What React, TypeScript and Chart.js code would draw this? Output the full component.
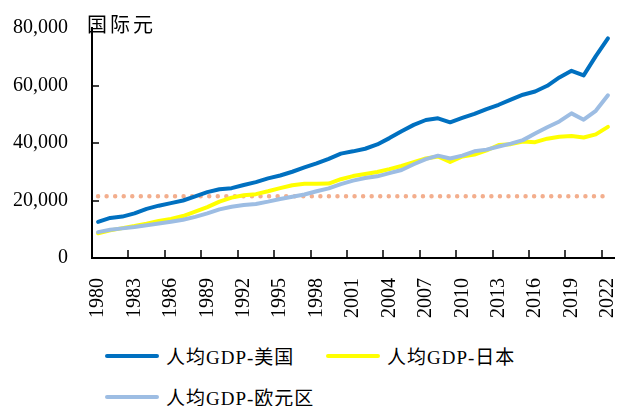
import React, { useEffect, useRef } from 'react';
import { Chart, registerables } from 'chart.js';

Chart.register(...registerables);

const years = [
  '1980', '1981', '1982', '1983', '1984', '1985', '1986', '1987', '1988', '1989',
  '1990', '1991', '1992', '1993', '1994', '1995', '1996', '1997', '1998', '1999',
  '2000', '2001', '2002', '2003', '2004', '2005', '2006', '2007', '2008', '2009',
  '2010', '2011', '2012', '2013', '2014', '2015', '2016', '2017', '2018', '2019',
  '2020', '2021', '2022',
];

const usValues = [
  12550, 13950, 14400, 15500, 17100, 18200, 19100, 20000, 21400, 22900,
  23900, 24300, 25400, 26400, 27700, 28700, 30000, 31500, 32900, 34500,
  36300, 37100, 38000, 39500, 41700, 44100, 46300, 48000, 48600, 47200,
  48700, 50100, 51800, 53300, 55100, 56800, 57900, 59900, 62800, 65100,
  63500, 70200, 76400,
];

const japanValues = [
  8600, 9600, 10400, 11100, 11900, 12900, 13600, 14600, 16100, 17700,
  19600, 21000, 21800, 22200, 23200, 24300, 25300, 25800, 25800, 25900,
  27400, 28500, 29200, 29900, 30900, 32000, 33300, 34600, 35300, 33400,
  35300, 36000, 37400, 39300, 39600, 40500, 40300, 41500, 42200, 42400,
  41900, 43000, 45600,
];

const euroValues = [
  9000, 9800, 10300, 10800, 11400, 12000, 12600, 13300, 14300, 15500,
  16900, 17800, 18400, 18800, 19600, 20500, 21300, 22100, 23200, 24200,
  25700, 26900, 27800, 28400, 29500, 30600, 32600, 34400, 35600, 34600,
  35600, 37100, 37700, 38800, 39800, 41000, 43300, 45500, 47500, 50300,
  48100, 51200, 56600,
];

const referenceLevel = 21500;

const seriesNames = ['人均GDP-美国', '人均GDP-日本', '人均GDP-欧元区'];
const seriesColors = ['#0070C0', '#FFFF00', '#9DBDE3'];
const referenceColor = '#F3AE8D';
const unitLabel = '国际元';

const yMin = 0;
const yMax = 80000;
const yStep = 20000;
const labelEvery = 3;

const serif = "'Liberation Serif', 'Times New Roman', serif";
const mixed = "'Liberation Serif', 'Noto Sans CJK SC', serif";

// Inward tick marks, positioned from the chart's own scales.
const innerTicks = {
  id: 'innerTicks',
  afterDraw(chart: any) {
    const { ctx } = chart;
    const x = chart.scales.x;
    const y = chart.scales.y;
    const half = (x.getPixelForValue(1) - x.getPixelForValue(0)) / 2;
    const left = Math.round(x.getPixelForValue(0) - half);
    const bottom = Math.round(y.getPixelForValue(yMin));
    ctx.save();
    ctx.fillStyle = '#000';
    for (let i = labelEvery; i < years.length; i += labelEvery) {
      const px = Math.round(x.getPixelForValue(i) - half);
      ctx.fillRect(px - 0.75, bottom - 8, 1.5, 8);
    }
    for (let v = yMin + yStep; v < yMax; v += yStep) {
      const py = Math.round(y.getPixelForValue(v));
      ctx.fillRect(left, py - 0.75, 7, 1.5);
    }
    ctx.restore();
  },
};

const clearPadding = (s: any) => {
  s.paddingLeft = 0;
  s.paddingRight = 0;
  s.paddingTop = 0;
  s.paddingBottom = 0;
};

export default function App() {
  const ref = useRef<HTMLCanvasElement>(null);

  useEffect(() => {
    const lineBase = {
      pointRadius: 0,
      borderWidth: 4,
      tension: 0,
      fill: false,
      borderJoinStyle: 'round' as const,
      borderCapStyle: 'round' as const,
    };
    const chart = new Chart(ref.current!, {
      type: 'line',
      data: {
        labels: years,
        datasets: [
          { ...lineBase, label: seriesNames[0], data: usValues, borderColor: seriesColors[0], order: 0 },
          { ...lineBase, label: seriesNames[2], data: euroValues, borderColor: seriesColors[2], order: 1 },
          { ...lineBase, label: seriesNames[1], data: japanValues, borderColor: seriesColors[1], order: 2 },
          {
            label: 'reference',
            data: years.map(() => referenceLevel),
            borderColor: referenceColor,
            borderWidth: 4.5,
            borderDash: [0, 8.55],
            borderCapStyle: 'round',
            pointRadius: 0,
            tension: 0,
            fill: false,
            order: 3,
          },
        ],
      },
      options: {
        responsive: false,
        animation: false,
        devicePixelRatio: 1,
        layout: { padding: { left: 12, right: 6, top: 28, bottom: 0 } },
        plugins: {
          legend: { display: false },
          tooltip: { enabled: false },
          title: { display: false },
        },
        scales: {
          x: {
            type: 'category',
            offset: true,
            grid: { display: false, drawTicks: false, offset: true },
            border: { display: true, color: '#000', width: 2 },
            afterFit: (s: any) => {
              s.height = 72;
              clearPadding(s);
            },
            ticks: {
              autoSkip: false,
              maxRotation: 90,
              minRotation: 90,
              padding: 20,
              color: '#000',
              font: { family: serif, size: 20 },
              callback: function (this: any, val: any, idx: number) {
                return idx % labelEvery === 0 ? this.getLabelForValue(val) : null;
              },
            },
          },
          y: {
            min: yMin,
            max: yMax,
            grid: { display: false, drawTicks: false },
            border: { display: true, color: '#000', width: 2 },
            afterFit: (s: any) => {
              s.width = 80;
              clearPadding(s);
            },
            ticks: {
              stepSize: yStep,
              padding: 24,
              color: '#000',
              font: { family: serif, size: 20 },
              callback: (v: any) => Number(v).toLocaleString('en-US'),
            },
          },
        },
      },
      plugins: [innerTicks],
    });
    return () => chart.destroy();
  }, []);

  const legendOrder = [0, 1, 2];

  return (
    <div
      style={{
        position: 'fixed',
        left: 0,
        top: 0,
        width: 620,
        height: 406,
        background: '#fff',
        overflow: 'hidden',
      }}
    >
      <canvas
        ref={ref}
        width={620}
        height={330}
        style={{ position: 'absolute', left: 0, top: 0, width: 620, height: 330 }}
      />
      <div
        style={{
          position: 'absolute',
          left: 87,
          top: 10,
          fontFamily: "'Noto Sans CJK SC', sans-serif",
          fontSize: 20,
          lineHeight: '28px',
          letterSpacing: 3,
          color: '#000',
        }}
      >
        {unitLabel}
      </div>
      <div
        style={{
          position: 'absolute',
          left: 105,
          top: 335,
          width: 460,
          display: 'flex',
          flexWrap: 'wrap',
        }}
      >
        {legendOrder.map((i) => (
          <div
            key={i}
            style={{ width: 221, height: 41, display: 'flex', alignItems: 'center' }}
          >
            <span
              style={{
                display: 'inline-block',
                width: 54,
                height: 4,
                borderRadius: 2,
                background: seriesColors[i],
                marginRight: 7,
              }}
            />
            <span
              style={{
                fontFamily: mixed,
                fontSize: 19,
                letterSpacing: 1,
                color: '#000',
                whiteSpace: 'nowrap',
              }}
            >
              {seriesNames[i]}
            </span>
          </div>
        ))}
      </div>
    </div>
  );
}
